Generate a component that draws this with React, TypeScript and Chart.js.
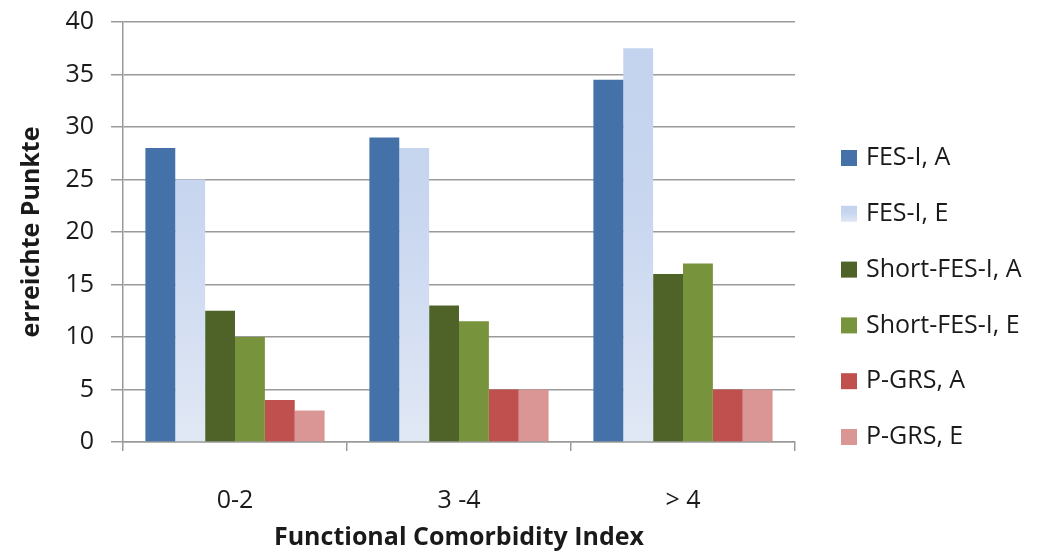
import React, { useEffect, useRef } from "react";
import { Chart, registerables } from "chart.js";

Chart.register(...registerables);

// Categories of the Functional Comorbidity Index
const categories = ["0-2", "3 -4", "> 4"];

// Scores per series (A / E)
const fesA = [28, 29, 34.5];
const fesE = [25, 28, 37.5];
const shortFesA = [12.5, 13, 16];
const shortFesE = [10, 11.5, 17];
const pgrsA = [4, 5, 5];
const pgrsE = [3, 5, 5];

const seriesLabels = [
  "FES-I, A",
  "FES-I, E",
  "Short-FES-I, A",
  "Short-FES-I, E",
  "P-GRS, A",
  "P-GRS, E",
];

const yMin = 0;
const yMax = 40;
const yStep = 5;

const FONT = "'Open Sans', Lato, sans-serif";
const TEXT = "#1a1a1a";
const GRID = "#9a9a9a";

const solidColors = ["#4472A8", null, "#4F6228", "#77933C", "#C0504D", "#D99694"];

function lightBlueGradient(ctx: CanvasRenderingContext2D, top: number, bottom: number) {
  const g = ctx.createLinearGradient(0, top, 0, bottom);
  g.addColorStop(0, "#C3D3EE");
  g.addColorStop(0.45, "#C8D6EF");
  g.addColorStop(1, "#E1E8F5");
  return g;
}

// Legend drawn at the right of the plot
const sideLegend = {
  id: "sideLegend",
  afterDraw(chart: any) {
    const ctx: CanvasRenderingContext2D = chart.ctx;
    const x0 = 841;
    const y0 = 158;
    const step = 55.8;
    const box = 16;
    ctx.save();
    ctx.font = `25px ${FONT}`;
    ctx.textBaseline = "middle";
    ctx.textAlign = "left";
    chart.data.datasets.forEach((ds: any, i: number) => {
      const cy = y0 + i * step;
      const c = solidColors[i];
      ctx.fillStyle = c ? c : lightBlueGradient(ctx, cy - box / 2, cy + box / 2);
      ctx.fillRect(x0, cy - box / 2, box, box);
      ctx.fillStyle = TEXT;
      ctx.fillText(ds.label, 866, cy);
    });
    ctx.restore();
  },
};

export default function App() {
  const canvasRef = useRef<HTMLCanvasElement | null>(null);

  useEffect(() => {
    const canvas = canvasRef.current;
    if (!canvas) return;
    const seriesData = [fesA, fesE, shortFesA, shortFesE, pgrsA, pgrsE];

    const chart = new Chart(canvas, {
      type: "bar",
      data: {
        labels: categories,
        datasets: seriesData.map((values, i) => ({
          label: seriesLabels[i],
          data: values,
          backgroundColor:
            solidColors[i] ??
            ((c: any) => {
              const area = c.chart.chartArea;
              if (!area) return "#C6D5EE";
              return lightBlueGradient(c.chart.ctx, area.top, area.bottom);
            }),
          borderWidth: 0,
          categoryPercentage: 0.8,
          barPercentage: 1,
        })),
      },
      options: {
        responsive: false,
        animation: false,
        layout: { padding: { top: 22, right: 242, left: 0, bottom: 0 } },
        plugins: {
          legend: { display: false },
          tooltip: { enabled: false },
        },
        scales: {
          x: {
            afterFit: (s: any) => {
              s.height = 112;
            },
            grid: {
              display: true,
              drawOnChartArea: false,
              drawTicks: true,
              tickLength: 9,
              offset: true,
              color: GRID,
              lineWidth: 1.5,
            },
            border: { display: true, color: GRID, width: 1.5 },
            ticks: {
              color: TEXT,
              padding: 35,
              font: { family: FONT, size: 25 },
            },
            title: {
              display: true,
              text: "Functional Comorbidity Index",
              color: TEXT,
              padding: { top: 0, bottom: 1 },
              font: { family: FONT, size: 25, weight: "bold" },
            },
          },
          y: {
            min: yMin,
            max: yMax,
            afterFit: (s: any) => {
              s.width = 123;
              s.paddingTop = 0;
              s.paddingBottom = 0;
            },
            grid: {
              color: GRID,
              lineWidth: 1.5,
              drawTicks: true,
              tickLength: 12,
            },
            border: { display: true, color: GRID, width: 1.5 },
            ticks: {
              stepSize: yStep,
              color: TEXT,
              padding: 17,
              font: { family: FONT, size: 25 },
            },
            title: {
              display: true,
              text: "erreichte Punkte",
              color: TEXT,
              padding: { top: 17, bottom: 0 },
              font: { family: FONT, size: 25, weight: "bold" },
            },
          },
        },
      },
      plugins: [sideLegend],
    });

    return () => chart.destroy();
  }, []);

  return (
    <div style={{ position: "fixed", left: 0, top: 0, width: 1037, height: 554, background: "#fff" }}>
      <canvas ref={canvasRef} width={1037} height={554} />
    </div>
  );
}
